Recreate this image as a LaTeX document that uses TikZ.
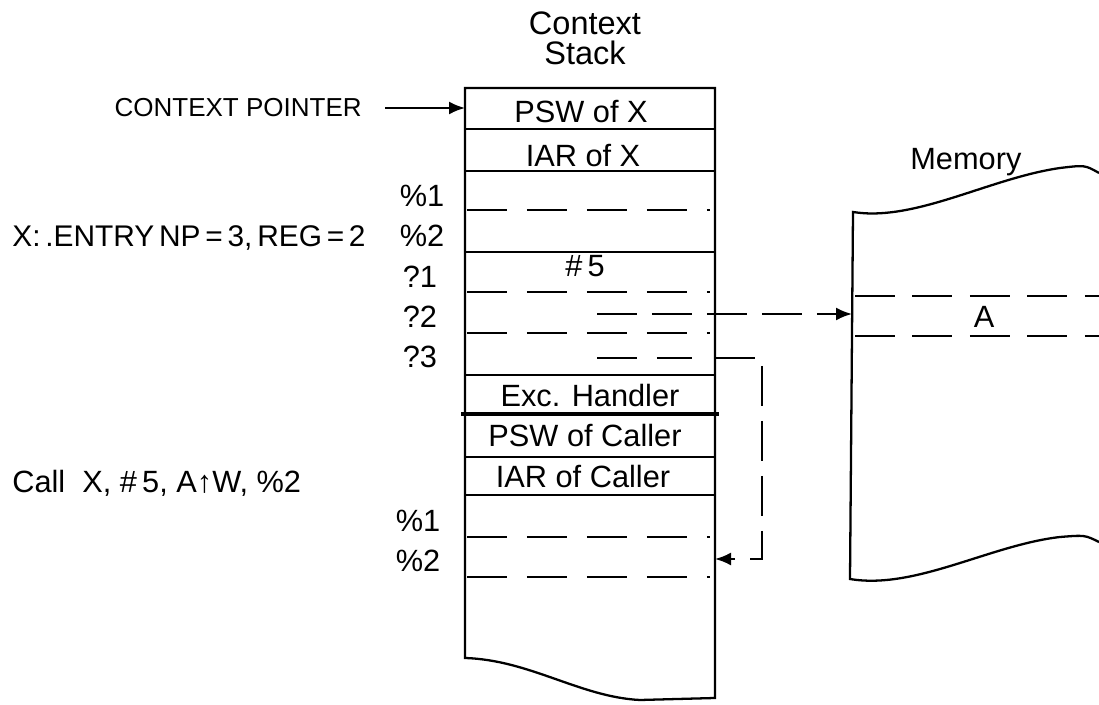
\documentclass[tikz,border=0pt]{standalone}
\usepackage{fontspec}
\setmainfont{Liberation Sans}
\usetikzlibrary{arrows.meta}

\tikzset{
  lbl/.style={inner sep=0pt, font=\fontsize{17.5}{20}\selectfont},
  titlelbl/.style={inner sep=0pt, font=\fontsize{18.5}{20}\selectfont},
  smalllbl/.style={inner sep=0pt, font=\fontsize{14.8}{17}\selectfont},
  wall/.style={line width=1.3pt},
  slot/.style={line width=1.2pt, dash pattern=on 0.8cm off 0.4cm},
  link/.style={line width=1.2pt, -{Latex[length=0.32cm,width=0.26cm]}},
}

\begin{document}
\begin{tikzpicture}[x=0.02cm,y=-0.02cm]
\useasboundingbox (0,0) rectangle (1099,705);

% context stack
\node[titlelbl, anchor=base] (ctxtitle) at (585,35) {Context};
\node[titlelbl, anchor=base] (stacktitle) at (585,65) {Stack};
\draw[wall] (715,698) -- (640,700) .. controls (580,697) and (530,660) .. (465,658)
  -- (465,88) -- (715,88) -- cycle;
\foreach \y in {129,171,252,375,457,495}
  \draw[wall] (465,\y) -- (715,\y);
\draw[line width=2.6pt] (461,414) -- (719,414);
\foreach \y in {210,292,333,537,577}
  \draw[slot] (467,\y) -- (710,\y);
\draw[slot] (597,358) -- (692,358);

\node[lbl, anchor=base] (pswx) at (581,123) {PSW of X};
\node[lbl, anchor=base] (iarx) at (583,167) {IAR of X};
\node[lbl, anchor=base] (lit5) at (585,277) {\#\,5};
\node[lbl, anchor=base] (exch) at (590,407) {Exc. Handler};
\node[lbl, anchor=base] (pswc) at (585,447) {PSW of Caller};
\node[lbl, anchor=base] (iarc) at (583,488) {IAR of Caller};

% register / parameter names
\node[lbl, anchor=base] (reg1) at (422,207) {\%1};
\node[lbl, anchor=base] (reg2) at (422,247) {\%2};
\node[lbl, anchor=base] (par1) at (420,288) {?1};
\node[lbl, anchor=base] (par2) at (420,328) {?2};
\node[lbl, anchor=base] (par3) at (420,368) {?3};
\node[lbl, anchor=base] (creg1) at (418,532) {\%1};
\node[lbl, anchor=base] (creg2) at (418,572) {\%2};

% code text
\node[smalllbl, anchor=base east] (ptrlabel) at (362,117) {CONTEXT POINTER};
\node[lbl, anchor=base west, font=\fontsize{17}{20}\selectfont] (entry) at (12,247) {\spaceskip=0.16em X: .ENTRY NP = 3, REG = 2};
\node[lbl, anchor=base west] (callx) at (12,493) {Call\ \ X, \#\,5, A↑W, \%2};

% memory
\node[lbl, anchor=base west] (memlabel) at (910,170) {Memory};
\draw[wall] (1099,173) .. controls (1085,165) .. (1060,168)
  .. controls (990,178) and (915,222) .. (853,212) -- (850,579)
  .. controls (915,590) and (990,545) .. (1060,537)
  .. controls (1085,535) .. (1099,542);
\draw[slot, dash pattern=on 0.8cm off 0.35cm] (855,296) -- (1099,296);
\draw[slot, dash pattern=on 0.8cm off 0.35cm] (855,336) -- (1099,336);
\node[lbl, anchor=base] (cellA) at (984,328) {A};

% connectors
\coordinate (ptrfrom) at (385,108);
\coordinate (ptrto) at (465,108);
\coordinate (par2out) at (597,314);
\coordinate (memin) at (852,314);
\coordinate (par3out) at (715,358);
\coordinate (bend) at (762,358);
\coordinate (reg2in) at (715,559);

\draw[link] (ptrfrom) -- (ptrto);
\draw[link, dash pattern=on 0.8cm off 0.3cm] (par2out) -- (memin);
\draw[link, dash pattern=on 0.8cm off 0.3cm] (par3out) -- (bend) -- (bend |- reg2in) -- (reg2in);
\end{tikzpicture}
\end{document}
